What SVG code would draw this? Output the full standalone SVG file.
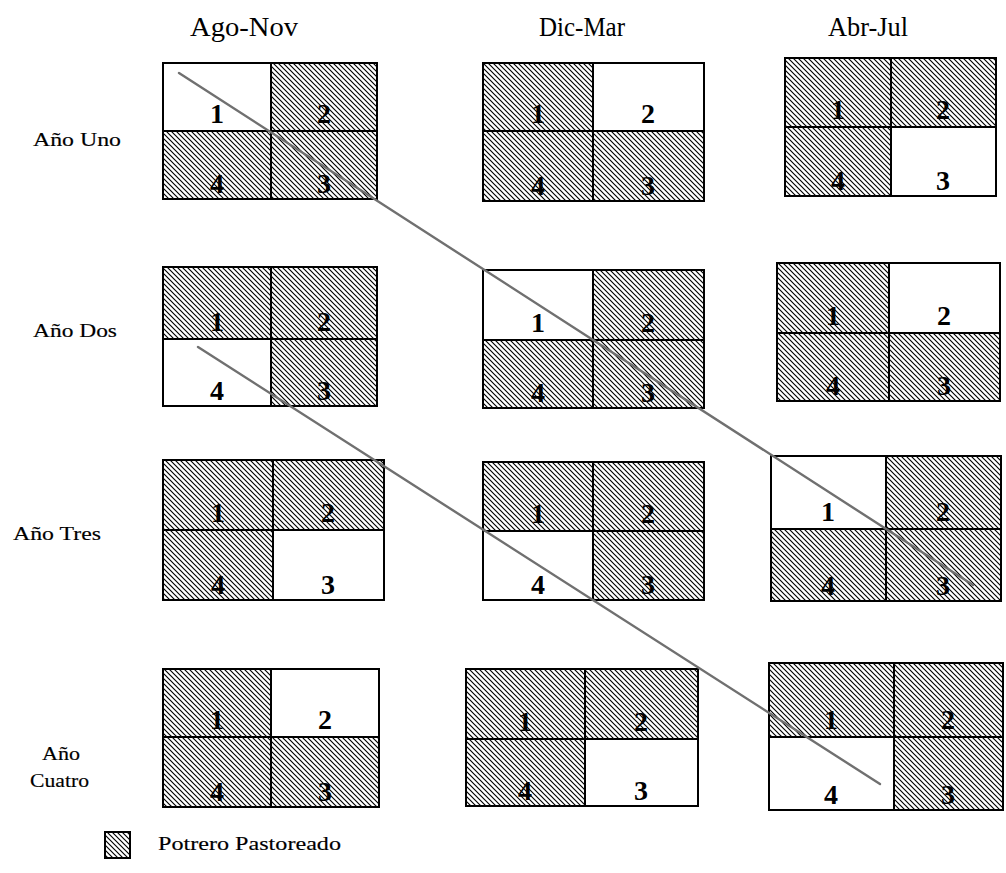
<svg xmlns="http://www.w3.org/2000/svg" width="1006" height="873" viewBox="0 0 1006 873">
<style>
.hdr{font-family:"Liberation Serif","Times New Roman",serif;font-size:27px;fill:#000;text-anchor:middle}
.lbl{font-family:"Liberation Serif","Times New Roman",serif;font-size:19px;fill:#000;stroke:#000;stroke-width:0.15}
.num{font-family:"Liberation Serif","Times New Roman",serif;font-size:28px;font-weight:bold;fill:#000;text-anchor:middle}
.h{fill:url(#hatch);stroke:#000;stroke-width:2}
.w{fill:#fff;stroke:#000;stroke-width:2}
.conn{stroke:#707070;stroke-width:2.4;fill:none;stroke-linecap:round}
</style>
<defs>
<pattern id="hatch" patternUnits="userSpaceOnUse" width="5" height="5">
<rect width="5" height="5" fill="#fff"/>
<path d="M0,0 L5,5 M-1,4 L1,6 M4,-1 L6,1" stroke="#000" stroke-width="1.15"/>
</pattern>
</defs>
<rect width="1006" height="873" fill="#fff"/>
<g id="headers">
<text class="hdr" x="244" y="36" textLength="108" lengthAdjust="spacingAndGlyphs">Ago-Nov</text>
<text class="hdr" x="582" y="36" textLength="86" lengthAdjust="spacingAndGlyphs">Dic-Mar</text>
<text class="hdr" x="868" y="36" textLength="80" lengthAdjust="spacingAndGlyphs">Abr-Jul</text>
</g>
<g id="row-labels">
<text class="lbl" x="33" y="146" textLength="88" lengthAdjust="spacingAndGlyphs">Año Uno</text>
<text class="lbl" x="33" y="337" textLength="84" lengthAdjust="spacingAndGlyphs">Año Dos</text>
<text class="lbl" x="13" y="540" textLength="88" lengthAdjust="spacingAndGlyphs">Año Tres</text>
<text class="lbl" x="42" y="760" textLength="38" lengthAdjust="spacingAndGlyphs">Año</text>
<text class="lbl" x="30" y="787" textLength="59" lengthAdjust="spacingAndGlyphs">Cuatro</text>
</g>
<g id="A1">
<rect class="w" x="163" y="63" width="108" height="68"/><rect class="h" x="271" y="63" width="106" height="68"/>
<rect class="h" x="163" y="131" width="108" height="68"/><rect class="h" x="271" y="131" width="106" height="68"/>
<text class="num" x="217" y="123">1</text><text class="num" x="324" y="123">2</text>
<text class="num" x="217" y="193">4</text><text class="num" x="324" y="193">3</text>
</g>
<g id="B1">
<rect class="h" x="483" y="63" width="110" height="68"/><rect class="w" x="593" y="63" width="111" height="68"/>
<rect class="h" x="483" y="131" width="110" height="70"/><rect class="h" x="593" y="131" width="111" height="70"/>
<text class="num" x="538" y="123">1</text><text class="num" x="648" y="123">2</text>
<text class="num" x="538" y="195">4</text><text class="num" x="648" y="195">3</text>
</g>
<g id="C1">
<rect class="h" x="785" y="58" width="106" height="69"/><rect class="h" x="891" y="58" width="105" height="69"/>
<rect class="h" x="785" y="127" width="106" height="69"/><rect class="w" x="891" y="127" width="105" height="69"/>
<text class="num" x="838" y="119">1</text><text class="num" x="943" y="119">2</text>
<text class="num" x="838" y="190">4</text><text class="num" x="943" y="190">3</text>
</g>
<g id="A2">
<rect class="h" x="163" y="267" width="108" height="72"/><rect class="h" x="271" y="267" width="106" height="72"/>
<rect class="w" x="163" y="339" width="108" height="67"/><rect class="h" x="271" y="339" width="106" height="67"/>
<text class="num" x="217" y="331">1</text><text class="num" x="324" y="331">2</text>
<text class="num" x="217" y="400">4</text><text class="num" x="324" y="400">3</text>
</g>
<g id="B2">
<rect class="w" x="483" y="270" width="110" height="70"/><rect class="h" x="593" y="270" width="111" height="70"/>
<rect class="h" x="483" y="340" width="110" height="68"/><rect class="h" x="593" y="340" width="111" height="68"/>
<text class="num" x="538" y="332">1</text><text class="num" x="648" y="332">2</text>
<text class="num" x="538" y="402">4</text><text class="num" x="648" y="402">3</text>
</g>
<g id="C2">
<rect class="h" x="777" y="263" width="112" height="70"/><rect class="w" x="889" y="263" width="111" height="70"/>
<rect class="h" x="777" y="333" width="112" height="68"/><rect class="h" x="889" y="333" width="111" height="68"/>
<text class="num" x="833" y="325">1</text><text class="num" x="944" y="325">2</text>
<text class="num" x="833" y="395">4</text><text class="num" x="944" y="395">3</text>
</g>
<g id="A3">
<rect class="h" x="163" y="460" width="110" height="70"/><rect class="h" x="273" y="460" width="111" height="70"/>
<rect class="h" x="163" y="530" width="110" height="70"/><rect class="w" x="273" y="530" width="111" height="70"/>
<text class="num" x="218" y="522">1</text><text class="num" x="328" y="522">2</text>
<text class="num" x="218" y="594">4</text><text class="num" x="328" y="594">3</text>
</g>
<g id="B3">
<rect class="h" x="483" y="462" width="110" height="69"/><rect class="h" x="593" y="462" width="111" height="69"/>
<rect class="w" x="483" y="531" width="110" height="69"/><rect class="h" x="593" y="531" width="111" height="69"/>
<text class="num" x="538" y="523">1</text><text class="num" x="648" y="523">2</text>
<text class="num" x="538" y="594">4</text><text class="num" x="648" y="594">3</text>
</g>
<g id="C3">
<rect class="w" x="771" y="456" width="115" height="73"/><rect class="h" x="886" y="456" width="115" height="73"/>
<rect class="h" x="771" y="529" width="115" height="72"/><rect class="h" x="886" y="529" width="115" height="72"/>
<text class="num" x="828" y="521">1</text><text class="num" x="943" y="521">2</text>
<text class="num" x="828" y="595">4</text><text class="num" x="943" y="595">3</text>
</g>
<g id="A4">
<rect class="h" x="163" y="669" width="108" height="68"/><rect class="w" x="271" y="669" width="108" height="68"/>
<rect class="h" x="163" y="737" width="108" height="70"/><rect class="h" x="271" y="737" width="108" height="70"/>
<text class="num" x="217" y="729">1</text><text class="num" x="325" y="729">2</text>
<text class="num" x="217" y="801">4</text><text class="num" x="325" y="801">3</text>
</g>
<g id="B4">
<rect class="h" x="466" y="669" width="119" height="70"/><rect class="h" x="585" y="669" width="113" height="70"/>
<rect class="h" x="466" y="739" width="119" height="67"/><rect class="w" x="585" y="739" width="113" height="67"/>
<text class="num" x="525" y="731">1</text><text class="num" x="641" y="731">2</text>
<text class="num" x="525" y="800">4</text><text class="num" x="641" y="800">3</text>
</g>
<g id="C4">
<rect class="h" x="769" y="663" width="125" height="74"/><rect class="h" x="894" y="663" width="109" height="74"/>
<rect class="w" x="769" y="737" width="125" height="73"/><rect class="h" x="894" y="737" width="109" height="73"/>
<text class="num" x="831" y="729">1</text><text class="num" x="948" y="729">2</text>
<text class="num" x="831" y="804">4</text><text class="num" x="948" y="804">3</text>
</g>
<g id="connectors">
<line class="conn" x1="179" y1="73" x2="973" y2="585"/>
<line class="conn" x1="198" y1="347" x2="880" y2="784"/>
</g>
<g id="legend">
<rect class="h" x="105" y="832" width="25" height="26"/>
<text class="lbl" x="158" y="850" textLength="183" lengthAdjust="spacingAndGlyphs">Potrero Pastoreado</text>
</g>
</svg>
